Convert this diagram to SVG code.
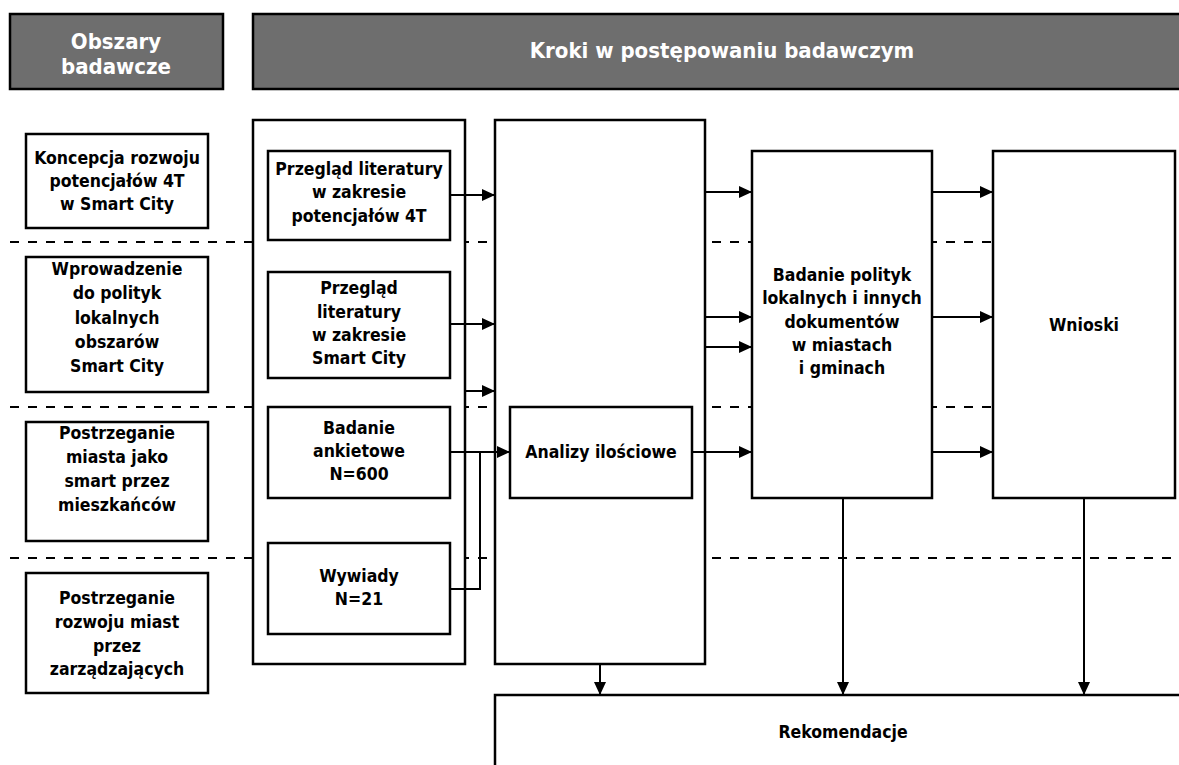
<svg xmlns="http://www.w3.org/2000/svg" width="1179" height="765" viewBox="0 0 1179 765">
<defs>
<style>
.hdr{fill:#6e6e6e;stroke:#000;stroke-width:2.5}
.box{fill:#fff;stroke:#000;stroke-width:2.5}
.t{font-family:"DejaVu Sans Condensed","DejaVu Sans",sans-serif;font-weight:bold;font-size:17.5px;fill:#000;text-anchor:middle}
.th{font-family:"DejaVu Sans Condensed","DejaVu Sans",sans-serif;font-weight:bold;font-size:22px;fill:#fff;text-anchor:middle}
.dash{stroke:#000;stroke-width:2;stroke-dasharray:9 9;fill:none}
.c{stroke:#000;stroke-width:2;fill:none}
.ca{stroke:#000;stroke-width:2;fill:none;marker-end:url(#ah)}
</style>
<marker id="ah" markerUnits="userSpaceOnUse" markerWidth="14" markerHeight="12" refX="13" refY="6" orient="auto">
<path d="M0,0 L13,6 L0,12 z" fill="#000"/>
</marker>
</defs>
<rect width="1179" height="765" fill="#fff"/>
<g id="dashes">
<path class="dash" d="M10,242 H1179"/>
<path class="dash" d="M10,407 H1179"/>
<path class="dash" d="M10,558 H1179"/>
</g>
<g id="header-left"><rect class="hdr" x="10" y="14" width="213" height="75"/>
<text class="th" x="116" y="49">Obszary</text><text class="th" x="116" y="74">badawcze</text></g>
<g id="header-right"><rect class="hdr" x="253" y="14" width="940" height="75"/>
<text class="th" x="722" y="58">Kroki w postępowaniu badawczym</text></g>
<g id="area1"><rect class="box" x="26" y="134" width="182" height="94"/>
<text class="t" x="117" y="164">Koncepcja rozwoju</text><text class="t" x="117" y="187">potencjałów 4T</text><text class="t" x="117" y="210">w Smart City</text></g>
<g id="area2"><rect class="box" x="26" y="257" width="182" height="135"/>
<text class="t" x="117" y="275">Wprowadzenie</text><text class="t" x="117" y="299">do polityk</text><text class="t" x="117" y="324">lokalnych</text><text class="t" x="117" y="348">obszarów</text><text class="t" x="117" y="372">Smart City</text></g>
<g id="area3"><rect class="box" x="26" y="422" width="182" height="119"/>
<text class="t" x="117" y="439">Postrzeganie</text><text class="t" x="117" y="463">miasta jako</text><text class="t" x="117" y="487">smart przez</text><text class="t" x="117" y="511">mieszkańców</text></g>
<g id="area4"><rect class="box" x="26" y="573" width="182" height="120"/>
<text class="t" x="117" y="604">Postrzeganie</text><text class="t" x="117" y="628">rozwoju miast</text><text class="t" x="117" y="652">przez</text><text class="t" x="117" y="675">zarządzających</text></g>
<g id="step1"><rect class="box" x="253" y="120" width="212" height="544"/></g>
<g id="lit4t"><rect class="box" x="268" y="151" width="182" height="89"/>
<text class="t" x="359" y="175">Przegląd literatury</text><text class="t" x="359" y="198">w zakresie</text><text class="t" x="359" y="222">potencjałów 4T</text></g>
<g id="litsc"><rect class="box" x="268" y="272" width="182" height="106"/>
<text class="t" x="359" y="294">Przegląd</text><text class="t" x="359" y="318">literatury</text><text class="t" x="359" y="341">w zakresie</text><text class="t" x="359" y="364">Smart City</text></g>
<g id="ankieta"><rect class="box" x="268" y="407" width="182" height="91"/>
<text class="t" x="359" y="434">Badanie</text><text class="t" x="359" y="457">ankietowe</text><text class="t" x="359" y="480">N=600</text></g>
<g id="wywiady"><rect class="box" x="268" y="543" width="182" height="91"/>
<text class="t" x="359" y="582">Wywiady</text><text class="t" x="359" y="605">N=21</text></g>
<g id="step2"><rect class="box" x="495" y="120" width="210" height="544"/></g>
<g id="analizy"><rect class="box" x="510" y="407" width="182" height="91"/>
<text class="t" x="601" y="458">Analizy ilościowe</text></g>
<g id="polityki"><rect class="box" x="752" y="151" width="180" height="347"/>
<text class="t" x="842" y="281">Badanie polityk</text><text class="t" x="842" y="304">lokalnych i innych</text><text class="t" x="842" y="328">dokumentów</text><text class="t" x="842" y="351">w miastach</text><text class="t" x="842" y="374">i gminach</text></g>
<g id="wnioski"><rect class="box" x="993" y="151" width="182" height="347"/>
<text class="t" x="1084" y="331">Wnioski</text></g>
<g id="rekomendacje"><rect class="box" x="495" y="695" width="700" height="100"/>
<text class="t" x="843" y="738">Rekomendacje</text></g>
<g id="connectors">
<path class="ca" d="M450,195 H495"/>
<path class="ca" d="M450,324 H495"/>
<path class="ca" d="M465,391 H495"/>
<path class="ca" d="M450,452 H510"/>
<path class="c" d="M450,589 H480 V452"/>
<path class="ca" d="M705,192 H752"/>
<path class="ca" d="M705,317 H752"/>
<path class="ca" d="M705,347 H752"/>
<path class="ca" d="M692,452 H752"/>
<path class="ca" d="M932,192 H993"/>
<path class="ca" d="M932,317 H993"/>
<path class="ca" d="M932,452 H993"/>
<path class="ca" d="M600,664 V695"/>
<path class="ca" d="M843,498 V695"/>
<path class="ca" d="M1084,498 V695"/>
</g>
</svg>
